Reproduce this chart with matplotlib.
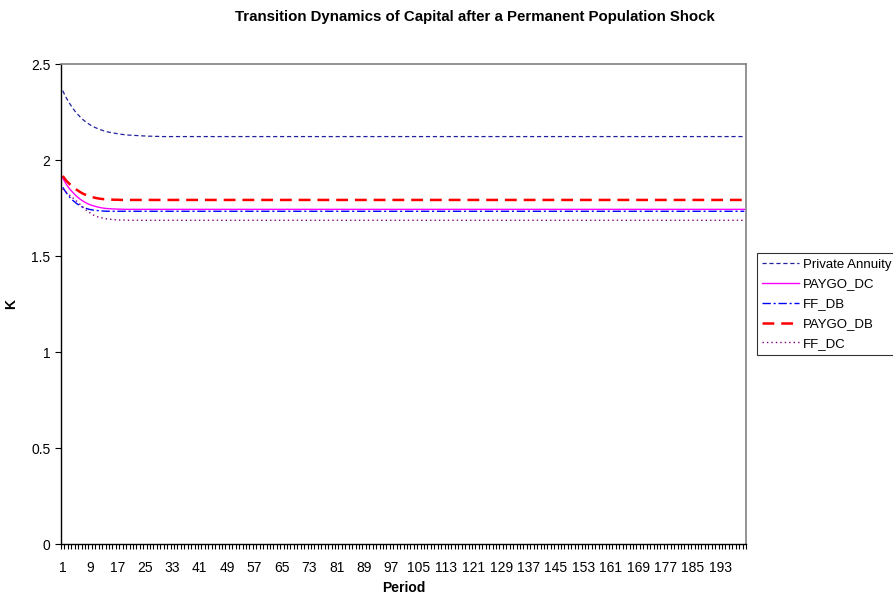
import matplotlib.pyplot as plt

plt.rcParams['font.family'] = ['Liberation Sans', 'DejaVu Sans']
plt.rcParams['lines.scale_dashes'] = False

# periodos 1..200
periods = list(range(1, 201))

k_private = [2.361, 2.325, 2.295, 2.268, 2.245, 2.226, 2.209, 2.195, 2.183, 2.173,
             2.165, 2.158, 2.152, 2.147, 2.143, 2.140, 2.137, 2.134, 2.132, 2.130,
             2.129, 2.128, 2.127, 2.126, 2.125, 2.124, 2.124, 2.123, 2.123, 2.122] + [2.122] * 170
k_paygo_dc = [1.905, 1.875, 1.850, 1.830, 1.812, 1.797, 1.785, 1.775, 1.767, 1.761,
              1.756, 1.752, 1.749, 1.747, 1.746, 1.745, 1.744, 1.744, 1.743, 1.743] + [1.743] * 180
k_ff_db = [1.858, 1.830, 1.807, 1.789, 1.774, 1.762, 1.753, 1.747, 1.742, 1.739,
           1.737, 1.735, 1.734, 1.733, 1.733, 1.733, 1.733, 1.733, 1.733, 1.733] + [1.733] * 180
k_paygo_db = [1.917, 1.893, 1.875, 1.860, 1.846, 1.834, 1.824, 1.816, 1.810, 1.805,
              1.801, 1.798, 1.796, 1.795, 1.794, 1.793, 1.793, 1.792, 1.792, 1.792] + [1.792] * 180
k_ff_dc = [1.850, 1.833, 1.817, 1.802, 1.787, 1.770, 1.752, 1.737, 1.724, 1.713,
           1.705, 1.700, 1.696, 1.693, 1.691, 1.689, 1.688, 1.687, 1.687, 1.686] + [1.686] * 180

y_ticks = [0, 0.5, 1, 1.5, 2, 2.5]
y_labels = ["0", "0.5", "1", "1.5", "2", "2.5"]

fig = plt.figure(figsize=(8.93, 5.97), dpi=100)
ax = fig.add_axes([61 / 893, 1 - 544 / 597, 685 / 893, 480 / 597])

ax.plot(periods, k_private, color='#2020a0', lw=0.9, ls=(0, (3, 2)), label='Private Annuity')
ax.plot(periods, k_paygo_dc, color='#ff00ff', lw=1.0, ls='-', label='PAYGO_DC')
ax.plot(periods, k_ff_db, color='#0000ff', lw=1.0, ls=(0, (6, 2, 1.5, 2)), label='FF_DB')
ax.plot(periods, k_paygo_db, color='#ff0000', lw=1.8, ls=(0, (8.5, 5)), label='PAYGO_DB')
ax.plot(periods, k_ff_dc, color='#800080', lw=1.0, ls=(0, (1, 2.2)), label='FF_DC')

ax.set_xlim(0.5, 200.5)
ax.set_ylim(0, 2.5)

# etiquetas cada 8 periodos, marcas en cada periodo
ax.set_xticks(periods[::8], [str(p) for p in periods[::8]])
ax.set_xticks([p + 0.5 for p in [0] + periods], minor=True)
ax.tick_params(axis='x', which='major', length=0, pad=12, labelsize=10)
ax.tick_params(axis='x', which='minor', length=3.5, width=0.8, direction='out')
ax.set_yticks(y_ticks, y_labels)
ax.tick_params(axis='y', length=4, width=0.8, direction='out', labelsize=10)

for side in ['left', 'bottom']:
    ax.spines[side].set_color('black')
    ax.spines[side].set_linewidth(1.0)
for side in ['top', 'right']:
    ax.spines[side].set_color('#808080')
    ax.spines[side].set_linewidth(1.2)

ax.set_xlabel("Period", fontsize=10, fontweight='bold')
ax.xaxis.set_label_coords(0.5, -37 / 480)
ax.set_ylabel("K", fontsize=10, fontweight='bold')
ax.yaxis.set_label_coords(-43 / 685, 0.5)

fig.text(475 / 893, 1 - 17 / 597, "Transition Dynamics of Capital after a Permanent Population Shock",
         ha='center', va='center', fontsize=10.8, fontweight='bold')

leg = fig.legend(loc='upper left', bbox_to_anchor=(757 / 893, 1 - 253 / 597), fontsize=9.5,
                 frameon=True, fancybox=False, borderpad=0.4, handlelength=2.8,
                 handletextpad=0.3, labelspacing=0.58, borderaxespad=0)
leg.get_frame().set_edgecolor('black')
leg.get_frame().set_linewidth(0.8)

fig.savefig("out.png", dpi=100)
